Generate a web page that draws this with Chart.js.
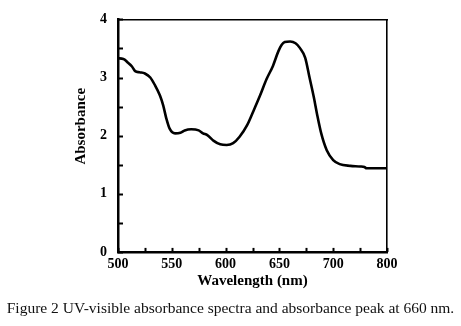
<!DOCTYPE html>
<html>
<head>
<meta charset="utf-8">
<script src="https://cdn.jsdelivr.net/npm/chart.js@4/dist/chart.umd.min.js"></script>
<style>
  html, body { margin: 0; padding: 0; background: #fff; }
  #wrap { width: 461px; height: 326px; position: relative; }
</style>
</head>
<body>
<div id="wrap"><canvas id="c" width="461" height="326"></canvas></div>
<script>
// ---- data ----
const wavelength = [500, 505, 509, 513, 516, 520, 525, 530, 534, 539, 542, 545, 548, 553, 558, 562, 568, 575, 579, 583, 589, 595, 601, 607, 613, 620, 626, 632, 638, 644, 649, 652, 655, 660, 665, 669, 674, 678, 682, 685, 689, 694, 700, 706, 716, 725, 729, 731, 744, 750];
const absorbance = [3.33, 3.32, 3.26, 3.19, 3.11, 3.09, 3.07, 3.00, 2.88, 2.69, 2.52, 2.29, 2.12, 2.04, 2.05, 2.09, 2.11, 2.09, 2.04, 2.01, 1.91, 1.85, 1.84, 1.87, 1.98, 2.18, 2.43, 2.69, 2.97, 3.20, 3.45, 3.56, 3.61, 3.62, 3.59, 3.51, 3.34, 3.00, 2.66, 2.37, 2.03, 1.75, 1.58, 1.51, 1.48, 1.47, 1.46, 1.44, 1.44, 1.44];
const xTickValues = [500, 525, 550, 575, 600, 625, 650, 675, 700, 725, 750];
const xTickLabels = ['500', '', '550', '', '600', '', '650', '', '700', '', '800'];
const yTickLabels = ['0', '', '1', '', '2', '', '3', '', '4'];
const xTitle = 'Wavelength (nm)';
const yTitle = 'Absorbance';
const caption = 'Figure 2 UV-visible absorbance spectra and absorbance peak at 660 nm.';

const points = wavelength.map((w, i) => ({ x: w, y: absorbance[i] }));
const serif = '"Liberation Serif", "Times New Roman", serif';

const innerTicks = {
  id: 'innerTicks',
  afterDatasetsDraw(chart) {
    const { ctx, chartArea, scales } = chart;
    ctx.save();
    ctx.strokeStyle = '#000';
    ctx.lineWidth = 2;
    scales.x.ticks.forEach(t => {
      const px = Math.round(scales.x.getPixelForValue(t.value)) + 0.5;
      ctx.beginPath();
      ctx.moveTo(px, chartArea.bottom);
      ctx.lineTo(px, chartArea.bottom - 4);
      ctx.stroke();
    });
    scales.y.ticks.forEach(t => {
      const py = Math.round(scales.y.getPixelForValue(t.value)) + 0.5;
      ctx.beginPath();
      ctx.moveTo(chartArea.left, py);
      ctx.lineTo(chartArea.left + 5, py);
      ctx.stroke();
    });
    ctx.restore();
  }
};

new Chart(document.getElementById('c'), {
  type: 'line',
  data: {
    datasets: [{
      data: points,
      borderColor: '#000',
      borderWidth: 2.6,
      pointRadius: 0,
      fill: false,
      cubicInterpolationMode: 'monotone'
    }]
  },
  options: {
    responsive: false,
    animation: false,
    layout: { padding: 0 },
    plugins: {
      legend: { display: false },
      tooltip: { enabled: false },
      title: {
        display: true,
        position: 'bottom',
        text: caption,
        color: '#111',
        font: { family: serif, size: 15.5, weight: 'normal' },
        padding: { top: 9, bottom: 8 }
      }
    },
    scales: {
      x: {
        type: 'linear',
        position: 'bottom',
        min: 500, max: 750,
        afterBuildTicks(scale) { scale.ticks = xTickValues.map(v => ({ value: v })); },
        afterFit(scale) { scale.height = 38.5; },
        grid: { display: false, drawTicks: false },
        border: { display: true, color: '#000', width: 2.5 },
        ticks: {
          padding: 4,
          maxRotation: 0,
          autoSkip: false,
          color: '#000',
          font: { family: serif, size: 14, weight: 'bold' },
          callback: (v, i) => xTickLabels[i]
        },
        title: {
          display: true,
          text: xTitle,
          color: '#000',
          font: { family: serif, size: 15, weight: 'bold' },
          padding: { top: 0, bottom: 0 }
        }
      },
      y: {
        type: 'linear',
        position: 'left',
        min: 0, max: 4,
        afterBuildTicks(scale) { scale.ticks = yTickLabels.map((l, i) => ({ value: i * 0.5 })); },
        afterFit(scale) { scale.width = 118; },
        grid: { display: false, drawTicks: false },
        border: { display: true, color: '#000', width: 2.5 },
        ticks: {
          padding: 11,
          color: '#000',
          font: { family: serif, size: 14, weight: 'bold' },
          callback: (v, i) => yTickLabels[i]
        },
        title: {
          display: true,
          text: '     ' + yTitle,
          color: '#000',
          font: { family: serif, size: 15, weight: 'bold' },
          padding: { top: 72, bottom: 0 }
        }
      },
      x2: {
        type: 'linear',
        position: 'top',
        min: 500, max: 750,
        afterFit(scale) { scale.height = 16; },
        grid: { display: false, drawTicks: false },
        border: { display: true, color: '#000', width: 1.6 },
        ticks: { display: false }
      },
      y2: {
        type: 'linear',
        position: 'right',
        min: 0, max: 4,
        afterFit(scale) { scale.width = 74; },
        grid: { display: false, drawTicks: false },
        border: { display: true, color: '#000', width: 1.6 },
        ticks: { display: false }
      }
    }
  },
  plugins: [innerTicks]
});
</script>
</body>
</html>
